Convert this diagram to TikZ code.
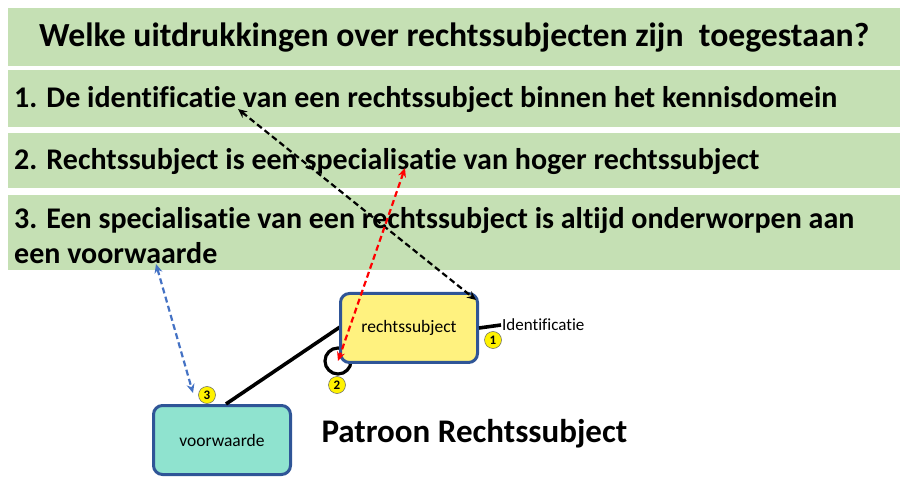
\documentclass[tikz,border=0pt]{standalone}
\usepackage{fontspec}
\setmainfont{Carlito}[Ligatures=NoCommon]
\usepackage{tikz}
\usetikzlibrary{arrows.meta,positioning}

\definecolor{bandgroen}{HTML}{C5E0B4}
\definecolor{kaderblauw}{HTML}{2F5597}
\definecolor{geel}{HTML}{FFF27F}
\definecolor{turkoois}{HTML}{8FE3CF}
\definecolor{pijlblauw}{HTML}{4472C4}

\begin{document}
\begin{tikzpicture}[
    % stijlen
    x=1pt, y=-1pt,
    band/.style={fill=bandgroen, draw=none, inner sep=0pt, anchor=north west,
        minimum width=892pt},
    bandtekst/.style={anchor=west, inner sep=0pt, font=\bfseries\fontsize{30}{35}\selectfont},
    klasse/.style={rounded corners=9pt, draw=kaderblauw, line width=3pt,
        minimum width=137pt, minimum height=69pt, font=\fontsize{17.5}{20}\selectfont},
    nummer/.style={circle, fill=yellow, draw=black!60, line width=0.5pt,
        minimum size=17pt, inner sep=0pt, font=\bfseries\fontsize{13}{14}\selectfont},
    verbinding/.style={line width=3.6pt},
    verwijzing/.style={dash pattern=on 6pt off 3.5pt, line width=2.2pt,
        {Stealth[length=9pt,width=8pt]}-{Stealth[length=9pt,width=8pt]}}
]

    \useasboundingbox (0,0) rectangle (908,478);

    % --- 1. vraag en antwoordbalken ---
    \node[band, minimum height=58pt] (titel) at (8,8) {};
    \node[font=\bfseries\fontsize{33.7}{36}\selectfont] at (titel.center) {Welke uitdrukkingen over rechtssubjecten zijn\ \ toegestaan?};

    \node[band, minimum height=57pt] (b1) at (8,70) {};
    \node[bandtekst] (t1) at (14,100) {1. De identificatie van een rechtssubject binnen het kennisdomein};

    \node[band, minimum height=55pt] (b2) at (8,133) {};
    \node[bandtekst] (t2) at (14,162) {2. Rechtssubject is een specialisatie van hoger rechtssubject};

    \node[band, minimum height=75pt] (b3) at (8,195) {};
    \node[bandtekst, align=left] (t3) at (14,236) {3. Een specialisatie van een rechtssubject is altijd onderworpen aan\\een voorwaarde};

    % --- 2. patroon ---
    \node[circle, draw=black, line width=3.2pt, minimum size=26pt] (spec) at (338,361) {};
    \node[klasse, fill=turkoois] (vw) at (222,440) {voorwaarde};
    \draw[verbinding] (vw.north) ++(4,0) coordinate (vwtop) (vwtop) -- (340,327) coordinate (rslinks);
    \node[klasse, fill=geel] (rs) at (409,328) {rechtssubject};

    \draw[verbinding] (rs.east) -- ++(22,-3) coordinate (id);
    \node[anchor=west, inner sep=1pt, font=\fontsize{17}{19}\selectfont] (idlabel) at (id) {Identificatie};

    \node[nummer] (n1) at (493,340) {1};
    \node[nummer] (n2) at (337,385) {2};
    \node[nummer] (n3) at (207,395) {3};

    \node[font=\bfseries\fontsize{33}{36}\selectfont, anchor=west] (patroon) at (318,434) {Patroon Rechtssubject};

    % --- 3. verwijzingen ---
    \coordinate (idtekst) at (238,109);
    \coordinate (idpunt) at (476,300);
    \coordinate (spectekst) at (405,168);
    \coordinate (vwtekst) at (156,264);
    \coordinate (vwpunt) at (193,393);

    \draw[verwijzing, black] (idtekst) -- (idpunt);
    \draw[verwijzing, red] (spectekst) -- (spec.center);
    \draw[verwijzing, pijlblauw] (vwtekst) -- (vwpunt);

\end{tikzpicture}
\end{document}
